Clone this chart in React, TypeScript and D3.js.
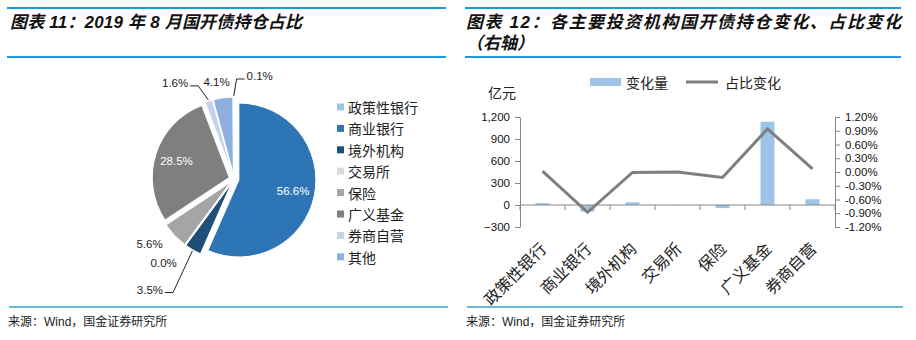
import React, { useRef, useEffect } from 'react';
import * as d3 from 'd3';

// 图表11 data
const holders = ['政策性银行', '商业银行', '境外机构', '交易所', '保险', '广义基金', '券商自营', '其他'];
const holdShare = [0.1, 56.6, 3.5, 0.0, 5.6, 28.5, 1.6, 4.1];
const holderColors = ['#9DC3E6', '#2E75B6', '#1F4E79', '#D9D9D9', '#A5A5A5', '#7F7F7F', '#C5D4ED', '#8EB0DE'];

// 图表12 data
const investors = ['政策性银行', '商业银行', '境外机构', '交易所', '保险', '广义基金', '券商自营'];
const amountChange = [25, -90, 37, 2, -42, 1135, 78];
const shareChange = [0.02, -0.88, -0.01, 0.0, -0.12, 0.94, 0.07];
const leftTicks = [-300, 0, 300, 600, 900, 1200];
const rightTicks = [-1.2, -0.9, -0.6, -0.3, 0, 0.3, 0.6, 0.9, 1.2];

// excel-ish placement tweaks for outside pie labels
const labelNudge = {
  '政策性银行': [26, -3, true],
  '境外机构': [-34, 24, true],
  '交易所': [-11, 3, false],
  '保险': [-12, -4, false],
  '券商自营': [-28, -1, true],
  '其他': [-4, 2, false],
};

const SANS = '"Liberation Sans", Arial, "Noto Sans CJK SC", sans-serif';
const CJK = '"Noto Sans CJK SC", "Liberation Sans", sans-serif';
const BLUE = '#1E9BD7';

const App = () => {
  const ref = useRef(null);

  useEffect(() => {
    const svg = d3.select(ref.current);
    svg.selectAll('*').remove();

    svg.append('rect').attr('width', 916).attr('height', 340).attr('fill', '#fff');

    // frames: title rules and footer rules
    const panels = [[7, 446], [465, 901]];
    panels.forEach(([x1, x2]) => {
      [8, 57].forEach((y) => {
        svg.append('line').attr('x1', x1).attr('x2', x2).attr('y1', y).attr('y2', y)
          .attr('stroke', BLUE).attr('stroke-width', 2);
      });
      svg.append('line').attr('x1', x1 + 2).attr('x2', x2 + 2).attr('y1', 307).attr('y2', 307)
        .attr('stroke', '#3AA0CF').attr('stroke-width', 1.5);
      svg.append('text').attr('x', x1 + 1).attr('y', 326)
        .attr('font-family', SANS).attr('font-size', 12).attr('fill', '#222')
        .text('来源：Wind，国金证券研究所');
    });

    const title = (txt, x, y, len) => svg.append('text').attr('x', x).attr('y', y)
      .attr('font-family', SANS).attr('font-size', 17).attr('font-weight', 'bold')
      .attr('font-style', 'italic').attr('fill', '#111')
      .attr('textLength', len).attr('lengthAdjust', 'spacing')
      .text(txt);
    title('图表 11：2019 年 8 月国开债持仓占比', 10, 28, 292);
    title('图表 12：各主要投资机构国开债持仓变化、占比变化', 466, 28, 435);
    title('（右轴）', 466, 49, 68);

    // ---- pie ----
    const cx = 234, cy = 179, R = 77, EXPLODE = 5;
    const off = holdShare[0] / 100 * 2 * Math.PI;
    const pie = d3.pie().sort(null).value((d) => d)
      .startAngle(-off).endAngle(2 * Math.PI - off);
    const arcs = pie(holdShare);
    const arc = d3.arc().innerRadius(0).outerRadius(R);
    const pg = svg.append('g').attr('transform', `translate(${cx},${cy})`);

    arcs.forEach((a, i) => {
      const mid = (a.startAngle + a.endAngle) / 2;
      const ux = Math.sin(mid), uy = -Math.cos(mid);
      pg.append('path')
        .attr('d', arc(a))
        .attr('transform', `translate(${ux * EXPLODE},${uy * EXPLODE})`)
        .attr('fill', holderColors[i])
        .attr('stroke', '#fff').attr('stroke-width', 1);
    });

    arcs.forEach((a, i) => {
      const mid = (a.startAngle + a.endAngle) / 2;
      const ux = Math.sin(mid), uy = -Math.cos(mid);
      const label = `${holdShare[i].toFixed(1)}%`;
      if (holdShare[i] > 10) {
        const rr = EXPLODE + R * 0.72;
        pg.append('text').attr('x', ux * rr).attr('y', uy * rr)
          .attr('text-anchor', 'middle').attr('dominant-baseline', 'central')
          .attr('font-family', SANS).attr('font-size', 11.5).attr('fill', '#fff')
          .text(label);
        return;
      }
      const [nx, ny, leader] = labelNudge[holders[i]] || [0, 0, false];
      const rr = EXPLODE + R + 18;
      const lx = ux * rr + nx, ly = uy * rr + ny;
      const t = pg.append('text').attr('x', lx).attr('y', ly)
        .attr('text-anchor', 'middle').attr('dominant-baseline', 'central')
        .attr('font-family', SANS).attr('font-size', 11.5).attr('fill', '#222')
        .text(label);
      if (leader) {
        const w = t.node().getComputedTextLength();
        const sx = ux * (EXPLODE + R + 1), sy = uy * (EXPLODE + R + 1);
        const side = lx > sx ? -1 : 1;
        const edge = lx + side * w / 2;
        pg.append('path')
          .attr('d', d3.line()([[sx, sy], [edge + side * 10, ly + 3], [edge + side * 2, ly + 3]]))
          .attr('fill', 'none').attr('stroke', '#222').attr('stroke-width', 1);
      }
    });

    // pie legend
    holders.forEach((h, i) => {
      const y = 107 + i * 21.4;
      svg.append('rect').attr('x', 337).attr('y', y - 3.5).attr('width', 7).attr('height', 7)
        .attr('fill', holderColors[i]);
      svg.append('text').attr('x', 348).attr('y', y).attr('dominant-baseline', 'central')
        .attr('font-family', CJK).attr('font-size', 14).attr('fill', '#222').text(h);
    });

    // ---- bar + line ----
    const x = d3.scaleBand().domain(investors).range([520, 835]);
    const yL = d3.scaleLinear().domain([-300, 1200]).range([227, 117]);
    const yR = d3.scaleLinear().domain([-1.2, 1.2]).range([227, 117]);
    const bw = x.bandwidth();
    const barW = bw * 0.31;

    const styleAxis = (g) => {
      g.selectAll('path, line').attr('stroke', '#868686');
      g.selectAll('text').attr('font-family', SANS).attr('font-size', 11.5).attr('fill', '#111');
    };

    svg.append('g').attr('transform', 'translate(520,0)')
      .call(d3.axisLeft(yL).tickValues(leftTicks).tickFormat(d3.format(',')).tickSize(5).tickSizeOuter(0).tickPadding(5))
      .call(styleAxis);

    svg.append('g').attr('transform', 'translate(835,0)')
      .call(d3.axisRight(yR).tickValues(rightTicks).tickFormat((d) => `${d.toFixed(2)}%`).tickSize(5).tickSizeOuter(0).tickPadding(5))
      .call(styleAxis);

    svg.selectAll('.bar').data(amountChange).enter().append('rect')
      .attr('x', (d, i) => x(investors[i]) + bw / 2 - barW / 2)
      .attr('width', barW)
      .attr('y', (d) => Math.min(yL(d), yL(0)))
      .attr('height', (d) => Math.abs(yL(d) - yL(0)))
      .attr('fill', '#9DC3E6');

    // category axis through zero
    const y0 = yL(0);
    svg.append('line').attr('x1', 520).attr('x2', 835).attr('y1', y0).attr('y2', y0)
      .attr('stroke', '#868686');
    [...investors.map((c) => x(c)), x.range()[1]].forEach((tx) => {
      svg.append('line').attr('x1', tx).attr('x2', tx).attr('y1', y0).attr('y2', y0 + 5)
        .attr('stroke', '#868686');
    });

    investors.forEach((c) => {
      const px = x(c) + bw / 2 + 5, py = 250;
      svg.append('text').attr('x', px).attr('y', py)
        .attr('text-anchor', 'end')
        .attr('transform', `rotate(-45,${px},${py})`)
        .attr('font-family', CJK).attr('font-size', 16).attr('fill', '#222').text(c);
    });

    svg.append('path')
      .attr('d', d3.line()(shareChange.map((v, i) => [x(investors[i]) + bw / 2, yR(v)])))
      .attr('fill', 'none').attr('stroke', '#7F7F7F').attr('stroke-width', 3)
      .attr('stroke-linejoin', 'miter');

    // legend + unit
    svg.append('rect').attr('x', 590).attr('y', 78).attr('width', 31).attr('height', 8).attr('fill', '#9DC3E6');
    svg.append('text').attr('x', 626).attr('y', 82).attr('dominant-baseline', 'central')
      .attr('font-family', CJK).attr('font-size', 14).attr('fill', '#222').text('变化量');
    svg.append('line').attr('x1', 686).attr('x2', 718).attr('y1', 82).attr('y2', 82)
      .attr('stroke', '#7F7F7F').attr('stroke-width', 3);
    svg.append('text').attr('x', 725).attr('y', 82).attr('dominant-baseline', 'central')
      .attr('font-family', CJK).attr('font-size', 14).attr('fill', '#222').text('占比变化');
    svg.append('text').attr('x', 488).attr('y', 92).attr('dominant-baseline', 'central')
      .attr('font-family', CJK).attr('font-size', 14).attr('fill', '#222').text('亿元');
  }, []);

  return (
    <div style={{ position: 'absolute', left: 0, top: 0 }}>
      <svg ref={ref} width={916} height={340} style={{ display: 'block' }}></svg>
    </div>
  );
};

export default App;
